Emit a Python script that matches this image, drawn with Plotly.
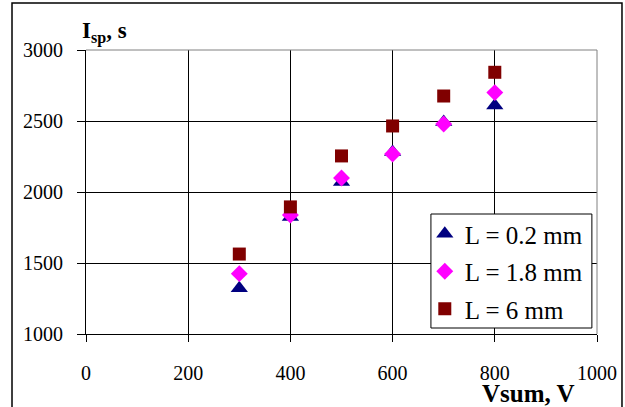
import plotly.graph_objects as go

voltage = [300, 400, 500, 600, 700, 800]
isp_L02 = [1322, 1824, 2071, 2282, 2493, 2610]
isp_L18 = [1425, 1838, 2099, 2268, 2479, 2700]
isp_L6 = [1563, 1895, 2254, 2465, 2676, 2843]
names = ["L = 0.2 mm", "L = 1.8 mm", "L = 6 mm"]
colors = ["#000080", "#FF00FF", "#800000"]
symbols = ["triangle-up", "diamond", "square"]
sizes = [15, 13, 13]

FONT = "Liberation Serif"

fig = go.Figure()
for i, (ys, n, c, s, sz) in enumerate(zip([isp_L02, isp_L18, isp_L6], names, colors, symbols, sizes)):
    fig.add_trace(go.Scatter(x=voltage, y=ys, mode="markers", name=n, legendgroup="g%d" % i,
                             marker=dict(color=c, symbol=s, size=sz, line=dict(width=0))))

fig.update_layout(
    width=625, height=407,
    margin=dict(l=86, r=28, t=50, b=73),
    paper_bgcolor="white", plot_bgcolor="white",
    font=dict(family=FONT, size=20, color="black"),
    showlegend=True,
    legend=dict(x=0.663, y=0.433, xanchor="left", yanchor="top",
                bgcolor="rgba(0,0,0,0)", borderwidth=0,
                font=dict(family=FONT, size=25), tracegroupgap=2,
                itemwidth=30),
    xaxis=dict(range=[0, 1000], dtick=200, tick0=0, showgrid=True, gridcolor="black",
               gridwidth=1, showline=True, linecolor="black", linewidth=1,
               ticks="outside", ticklen=7, tickcolor="black", zeroline=False,
               ticklabelstandoff=14, tickfont=dict(family=FONT, size=20), automargin=False),
    yaxis=dict(range=[1000, 3000], dtick=500, tick0=1000, showgrid=True, gridcolor="black",
               gridwidth=1, showline=True, linecolor="black", linewidth=1,
               ticks="outside", ticklen=8, tickcolor="black", zeroline=False,
               ticklabelstandoff=10, tickfont=dict(family=FONT, size=20), automargin=False),
    shapes=[
        dict(type="line", xref="paper", yref="paper", x0=0, x1=1, y0=1, y1=1,
             line=dict(color="#808080", width=1)),
        dict(type="line", xref="paper", yref="paper", x0=1, x1=1, y0=0, y1=1,
             line=dict(color="#808080", width=1)),
        dict(type="rect", xref="paper", yref="paper", x0=-0.1448, x1=1.0489,
             y0=-0.28, y1=1.1655, line=dict(color="black", width=1.5)),
        dict(type="rect", xref="paper", yref="paper", x0=0.675, x1=0.990,
             y0=0.0211, y1=0.4225, layer="above", fillcolor="white",
             line=dict(color="black", width=1)),
    ],
    annotations=[
        dict(text="<b>I<sub>sp</sub>, s</b>", xref="paper", yref="paper",
             x=-0.0117, y=1.06, xanchor="left", yanchor="middle", showarrow=False,
             font=dict(family=FONT, size=23)),
        dict(text="<b>Vsum, V</b>", xref="paper", yref="paper",
             x=0.771, y=-0.211, xanchor="left", yanchor="middle", showarrow=False,
             font=dict(family=FONT, size=25)),
    ],
)

fig.write_html("out.html", post_script="document.body.style.margin='0';",
               config={"displayModeBar": False})
